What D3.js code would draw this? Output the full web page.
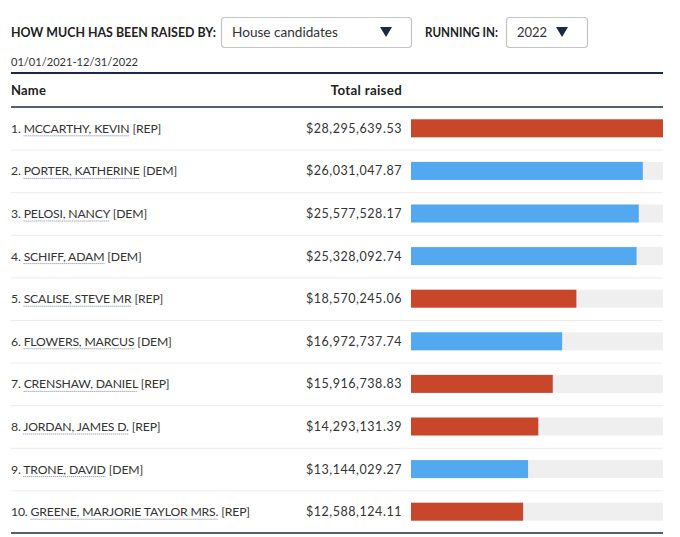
<!DOCTYPE html>
<html><head><meta charset="utf-8">
<script src="https://cdn.jsdelivr.net/npm/d3@7/dist/d3.min.js"></script>
<style>
body{margin:0;background:#fff;}
text{font-family:Lato,"Open Sans",sans-serif;}
</style></head>
<body><svg id="c" width="680" height="537"></svg>
<script>
const names = ["MCCARTHY, KEVIN","PORTER, KATHERINE","PELOSI, NANCY","SCHIFF, ADAM","SCALISE, STEVE MR","FLOWERS, MARCUS","CRENSHAW, DANIEL","JORDAN, JAMES D.","TRONE, DAVID","GREENE, MARJORIE TAYLOR MRS."];
const parties = ["REP","DEM","DEM","DEM","REP","DEM","REP","REP","DEM","REP"];
const totals = [28295639.53,26031047.87,25577528.17,25328092.74,18570245.06,16972737.74,15916738.83,14293131.39,13144029.27,12588124.11];
const colors = {REP:"#c8472b", DEM:"#52a9ef"};

const svg = d3.select("#c");
const left = 11, right = 663, valX = 402, barX = 411;
const navy = "#1c2a48";

// controls
svg.append("text").attr("x",left).attr("y",37).attr("font-size",12.8).attr("font-weight",700)
  .attr("fill","#222").attr("textLength",205).attr("lengthAdjust","spacingAndGlyphs").text("HOW MUCH HAS BEEN RAISED BY:");
svg.append("rect").attr("x",221.5).attr("y",17.5).attr("width",190).attr("height",30).attr("rx",3)
  .attr("fill","#fff").attr("stroke","#c4c4c4").attr("stroke-width",1.2);
svg.append("text").attr("x",232).attr("y",37).attr("font-size",13.6).attr("fill","#333").text("House candidates");
svg.append("path").attr("d","M380,27 L392,27 L386,37 Z").attr("fill",navy);
svg.append("text").attr("x",425).attr("y",37).attr("font-size",12.8).attr("font-weight",700)
  .attr("fill","#222").attr("textLength",73).attr("lengthAdjust","spacingAndGlyphs").text("RUNNING IN:");
svg.append("rect").attr("x",506.5).attr("y",17.5).attr("width",81).attr("height",30).attr("rx",3)
  .attr("fill","#fff").attr("stroke","#c4c4c4").attr("stroke-width",1.2);
svg.append("text").attr("x",517).attr("y",37).attr("font-size",13).attr("fill","#333").text("2022");
svg.append("path").attr("d","M556,27 L568,27 L562,37 Z").attr("fill",navy);

svg.append("text").attr("x",left).attr("y",66).attr("font-size",11.6).attr("fill","#333")
  .attr("textLength",127).attr("lengthAdjust","spacingAndGlyphs").text("01/01/2021-12/31/2022");

svg.append("line").attr("x1",left).attr("x2",right).attr("y1",73).attr("y2",73).attr("stroke",navy).attr("stroke-width",2);
svg.append("text").attr("x",left).attr("y",95).attr("font-size",13).attr("font-weight",700).attr("fill","#222").attr("letter-spacing",0.2).text("Name");
svg.append("text").attr("x",valX).attr("y",95).attr("text-anchor","end").attr("font-size",13.3).attr("font-weight",700).attr("fill","#222").attr("letter-spacing",0.3).text("Total raised");
svg.append("line").attr("x1",left).attr("x2",right).attr("y1",107).attr("y2",107).attr("stroke",navy).attr("stroke-width",1.5);

const y = d3.scaleBand().domain(d3.range(names.length)).range([107,533]);
const x = d3.scaleLinear().domain([0, d3.max(totals)]).range([barX, right]);
const fmt = v => "$" + d3.format(",.2f")(v);
const bh = 18;

const rows = svg.append("g").selectAll("g").data(names).join("g")
  .attr("transform",(d,i)=>`translate(0,${y(i)})`);
rows.filter((d,i)=>i>0).append("line").attr("x1",left).attr("x2",right).attr("y1",0.5).attr("y2",0.5)
  .attr("stroke","#ececec").attr("stroke-width",1);
rows.append("rect").attr("x",barX).attr("y",y.bandwidth()/2-bh/2).attr("width",right-barX).attr("height",bh).attr("fill","#efefef");
rows.append("rect").attr("x",barX).attr("y",y.bandwidth()/2-bh/2).attr("width",(d,i)=>x(totals[i])-barX).attr("height",bh)
  .attr("fill",(d,i)=>colors[parties[i]]);
const t = rows.append("text").attr("x",left).attr("y",y.bandwidth()/2+4.5).attr("font-size",12.2).attr("fill","#333").attr("letter-spacing",-0.15);
t.append("tspan").text((d,i)=>(i+1)+". ");
t.append("tspan").attr("class","nm").text(d=>d);
t.append("tspan").text((d,i)=>" ["+parties[i]+"]");
// dotted underline under names
rows.each(function(d,i){
  const g = d3.select(this);
  const tsp = g.select(".nm").node();
  const n = tsp.getNumberOfChars();
  const s = tsp.getStartPositionOfChar(0).x;
  const e = tsp.getEndPositionOfChar(n-1).x;
  g.append("line").attr("x1",s).attr("x2",e).attr("y1",y.bandwidth()/2+7.5).attr("y2",y.bandwidth()/2+7.5)
    .attr("stroke","#7a86a0").attr("stroke-width",1).attr("stroke-dasharray","1,1");
});
rows.append("text").attr("x",valX).attr("y",y.bandwidth()/2+4.5).attr("text-anchor","end").attr("font-size",12.5)
  .attr("fill","#333").attr("letter-spacing",0.55).text((d,i)=>fmt(totals[i]));

svg.append("line").attr("x1",left).attr("x2",right).attr("y1",533).attr("y2",533).attr("stroke",navy).attr("stroke-width",1.5);
</script></body></html>
